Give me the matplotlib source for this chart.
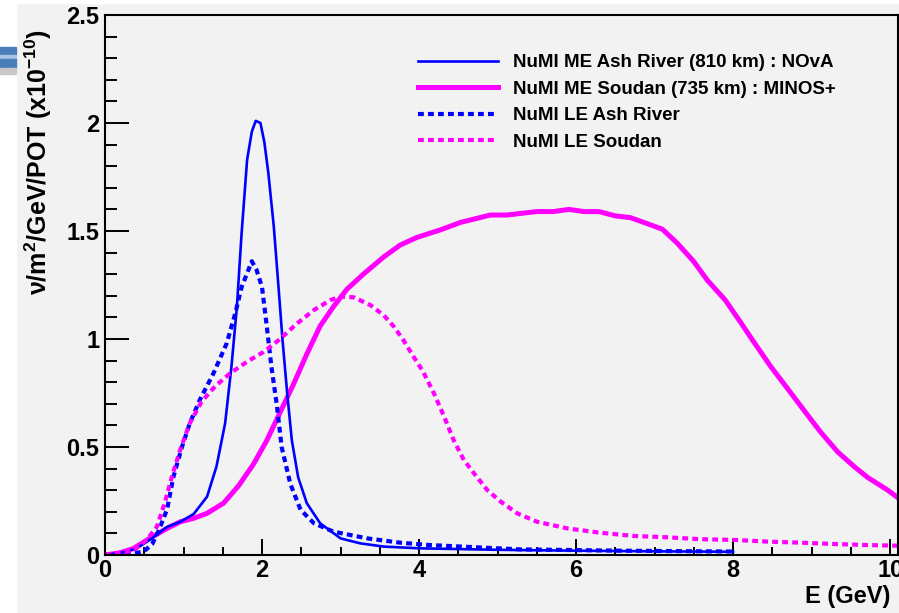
import matplotlib
matplotlib.use("Agg")
import matplotlib.pyplot as plt
from matplotlib.patches import Rectangle

plt.rcParams['font.family'] = ['Liberation Sans', 'DejaVu Sans']
plt.rcParams['font.weight'] = 'bold'
plt.rcParams['mathtext.fontset'] = 'custom'
plt.rcParams['mathtext.rm'] = 'Liberation Sans:bold'
plt.rcParams['mathtext.it'] = 'Liberation Sans'
plt.rcParams['mathtext.bf'] = 'Liberation Sans:bold'

# NuMI ME Ash River (810 km) : NOvA
e_me_ash = [0.0, 0.2, 0.4, 0.57, 0.79, 0.96, 1.13, 1.30, 1.42, 1.53, 1.61, 1.68, 1.74,
            1.81, 1.87, 1.92, 1.98, 2.03, 2.08, 2.15, 2.21, 2.26, 2.32, 2.38, 2.46, 2.57,
            2.74, 3.0, 3.25, 3.55, 4.0, 5.0, 6.0, 7.0, 8.0]
v_me_ash = [0.0, 0.01, 0.03, 0.07, 0.13, 0.154, 0.19, 0.27, 0.41, 0.61, 0.87, 1.15, 1.49,
            1.83, 1.96, 2.01, 2.00, 1.91, 1.77, 1.52, 1.24, 1.00, 0.75, 0.53, 0.36, 0.24,
            0.147, 0.077, 0.054, 0.039, 0.031, 0.024, 0.02, 0.017, 0.015]

# NuMI ME Soudan (735 km) : MINOS+
e_me_soudan = [0.0, 0.19, 0.36, 0.57, 0.79, 0.96, 1.13, 1.30, 1.51, 1.70, 1.89, 2.06, 2.23,
               2.40, 2.57, 2.74, 2.91, 3.08, 3.29, 3.55, 3.76, 3.97, 4.27, 4.53, 4.91, 5.12,
               5.50, 5.71, 5.91, 6.10, 6.29, 6.50, 6.69, 6.90, 7.10, 7.29, 7.50, 7.67, 7.90,
               8.09, 8.26, 8.48, 8.69, 8.90, 9.11, 9.33, 9.54, 9.71, 9.97, 10.11]
v_me_soudan = [0.0, 0.01, 0.03, 0.077, 0.123, 0.154, 0.17, 0.193, 0.24, 0.32, 0.42, 0.53, 0.66,
               0.79, 0.93, 1.06, 1.15, 1.23, 1.30, 1.38, 1.435, 1.47, 1.505, 1.54, 1.574, 1.574,
               1.59, 1.59, 1.60, 1.59, 1.59, 1.57, 1.562, 1.535, 1.508, 1.443, 1.358, 1.273, 1.18,
               1.08, 0.988, 0.872, 0.772, 0.671, 0.571, 0.478, 0.41, 0.36, 0.30, 0.262]

# NuMI LE Ash River
e_le_ash = [0.0, 0.25, 0.49, 0.6, 0.68, 0.79, 0.87, 0.98, 1.08, 1.21, 1.38, 1.55, 1.66, 1.74,
            1.87, 1.93, 2.0, 2.06, 2.12, 2.19, 2.25, 2.36, 2.49, 2.66, 2.91, 3.34, 3.76,
            4.14, 5.29, 6.56, 8.0]
v_le_ash = [0.0, 0.003, 0.015, 0.05, 0.11, 0.21, 0.36, 0.50, 0.61, 0.72, 0.84, 0.98, 1.12, 1.24,
            1.36, 1.32, 1.24, 1.06, 0.87, 0.69, 0.50, 0.33, 0.21, 0.147, 0.108, 0.077, 0.057,
            0.046, 0.026, 0.020, 0.016]

# NuMI LE Soudan
e_le_soudan = [0.0, 0.36, 0.53, 0.66, 0.76, 0.85, 0.96, 1.08, 1.23, 1.40, 1.59, 1.81, 2.02,
               2.23, 2.44, 2.66, 2.87, 3.00, 3.17, 3.38, 3.55, 3.68, 3.80, 3.93, 4.05, 4.19,
               4.32, 4.44, 4.57, 4.70, 4.87, 5.04, 5.25, 5.50, 5.89, 6.31, 6.74, 7.16, 7.59,
               8.01, 8.44, 8.86, 9.29, 9.71, 10.11]
v_le_soudan = [0.0, 0.02, 0.07, 0.13, 0.24, 0.36, 0.49, 0.61, 0.71, 0.78, 0.84, 0.895, 0.94,
               1.00, 1.07, 1.134, 1.18, 1.196, 1.193, 1.157, 1.11, 1.057, 0.995, 0.918, 0.85, 0.748,
               0.64, 0.532, 0.44, 0.378, 0.30, 0.247, 0.193, 0.154, 0.123, 0.103, 0.088, 0.082, 0.073,
               0.070, 0.062, 0.057, 0.051, 0.046, 0.043]

labels = ["NuMI ME Ash River (810 km) : NOvA",
          "NuMI ME Soudan (735 km) : MINOS+",
          "NuMI LE Ash River",
          "NuMI LE Soudan"]

W, H = 899, 613
gris = "#f2f2f2"
fig = plt.figure(figsize=(W / 100, H / 100), dpi=100, facecolor=gris)

# bordes blancos y barras decorativas de la diapositiva
def rect_px(x, y, w, h, color):
    fig.patches.append(Rectangle((x / W, 1 - (y + h) / H), w / W, h / H,
                                 transform=fig.transFigure, color=color, zorder=0))

rect_px(0, 0, 16, H, "white")
rect_px(0, 0, W, 3, "white")
rect_px(0, 47, 16, 8, "#4a7ebb")
rect_px(0, 55, 16, 4, "#a9c3e6")
rect_px(0, 59, 16, 9, "#4a7ebb")
rect_px(0, 68, 16, 6, "#c8c8c8")

ax = fig.add_axes([105 / W, 1 - 555 / H, 793 / W, 540 / H])
ax.set_facecolor(gris)

punteado = (0, (1.4, 1.0))
l_ms, = ax.plot(e_me_soudan, v_me_soudan, color="#ff00ff", lw=3.6)
l_ma, = ax.plot(e_me_ash, v_me_ash, color="#0000ff", lw=1.9)
l_la, = ax.plot(e_le_ash, v_le_ash, color="#0000ff", lw=3.0, linestyle=punteado)
l_ls, = ax.plot(e_le_soudan, v_le_soudan, color="#ff00ff", lw=3.0, linestyle=punteado)

ax.set_xlim(0, 10.1)
ax.set_ylim(0, 2.5)
ax.set_xticks([0, 2, 4, 6, 8, 10])
ax.set_xticks([x * 0.5 for x in range(21)], minor=True)
ax.set_yticks([0, 0.5, 1, 1.5, 2, 2.5])
ax.set_yticklabels(["0", "0.5", "1", "1.5", "2", "2.5"])
ax.set_yticks([y * 0.1 for y in range(26)], minor=True)

ax.tick_params(axis="x", which="major", direction="in", length=11.5, width=1.4,
               labelsize=17, pad=3)
ax.tick_params(axis="x", which="minor", direction="in", length=5.8, width=1.4)
ax.tick_params(axis="y", which="major", direction="in", length=17, width=1.4,
               labelsize=17, pad=4)
ax.tick_params(axis="y", which="minor", direction="in", length=8.6, width=1.4)
for s in ax.spines.values():
    s.set_linewidth(1.5)

fig.text(38 / W, 1 - 29 / H, r"$\nu$/m$^{2}$/GeV/POT (x10$^{-10}$)", rotation=90,
         ha="center", va="top", fontsize=18, fontweight="bold")
fig.text(890 / W, 1 - 597 / H, "E (GeV)", ha="right", va="center",
         fontsize=17, fontweight="bold")

ax.legend([l_ma, l_ms, l_la, l_ls], labels, loc="upper left",
          bbox_to_anchor=(418 / W, 1 - 54 / H), bbox_transform=fig.transFigure,
          frameon=False, fontsize=13.5, handlelength=4.25, handletextpad=0.8,
          labelspacing=0.5, borderpad=0, borderaxespad=0)

fig.savefig("out.png", dpi=100, facecolor=fig.get_facecolor())
